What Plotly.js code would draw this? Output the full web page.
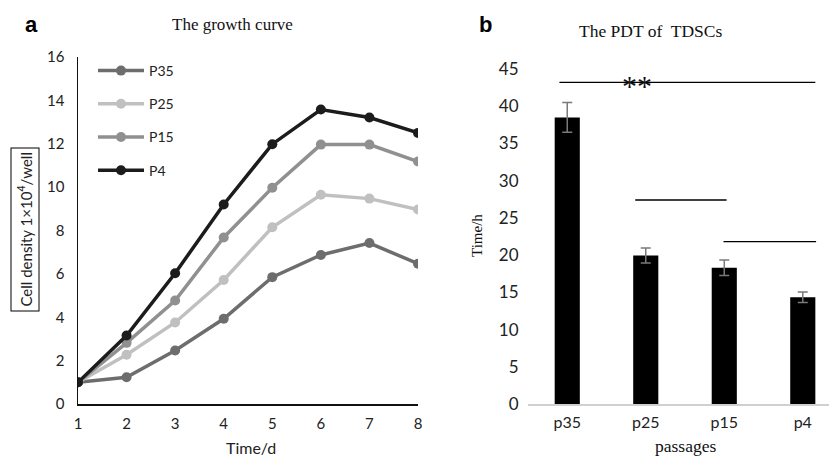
<!DOCTYPE html>
<html><head><meta charset="utf-8">
<script src="https://cdn.plot.ly/plotly-3.0.1.min.js"></script>
<style>html,body{margin:0;padding:0;background:#fff;}#chart{width:829px;height:458px;}</style>
</head><body><div id="chart"></div>
<script>
// Panel a: growth curve
const days = [1, 2, 3, 4, 5, 6, 7, 8];
const p35 = [1, 1.23, 2.47, 3.93, 5.85, 6.87, 7.42, 6.47];
const p25 = [1, 2.27, 3.76, 5.72, 8.15, 9.65, 9.47, 8.97];
const p15 = [1, 2.82, 4.77, 7.68, 9.97, 11.96, 11.96, 11.18];
const p4  = [1, 3.16, 6.03, 9.2, 11.98, 13.58, 13.21, 12.5];
const seriesNames = ['P35', 'P25', 'P15', 'P4'];
const seriesColors = ['#6d6d6d', '#c0c0c0', '#909090', '#1c1c1c'];

// Panel b: PDT
const passages = ['p35', 'p25', 'p15', 'p4'];
const pdt = [38.5, 19.95, 18.3, 14.35];
const pdtErr = [2.0, 1.0, 1.05, 0.7];
// significance brackets (category index range, level)
const sigX0 = [-0.1, 0.866, 1.99];
const sigX1 = [3.16, 2.03, 3.17];
const sigY  = [43.2, 27.4, 21.8];

const W = 829, H = 458;
const px = v => v / W, py = v => 1 - v / H;
const tickFont = {family: 'Lato, "Open Sans", sans-serif', size: 15, color: '#222'};
const serif = '"Liberation Serif", "DejaVu Serif", serif';

const lineSeries = [p35, p25, p15, p4];
const traces = lineSeries.map((ys, i) => ({
  type: 'scatter', mode: 'lines+markers', x: days, y: ys, name: seriesNames[i],
  xaxis: 'x', yaxis: 'y', legendgroup: 'g' + i,
  line: {color: seriesColors[i], width: 3.5},
  marker: {color: seriesColors[i], size: 10}
}));
traces.push({
  type: 'bar', x: passages, y: pdt, xaxis: 'x2', yaxis: 'y2', showlegend: false,
  width: 0.32, marker: {color: '#000'},
  error_y: {type: 'data', array: pdtErr, visible: true, color: '#7a7a7a', thickness: 1.5, width: 5}
});

const shapes = sigY.map((y, i) => ({
  type: 'line', xref: 'x2', yref: 'y2', x0: sigX0[i], x1: sigX1[i], y0: y, y1: y,
  line: {color: '#000', width: 1.3}
}));

function ann(text, x, y, font, extra) {
  return Object.assign({text: text, x: px(x), y: py(y), xref: 'paper', yref: 'paper',
    xanchor: 'center', yanchor: 'middle', showarrow: false, font: font}, extra || {});
}

const layout = {
  width: W, height: H, margin: {l: 0, r: 0, t: 0, b: 0},
  paper_bgcolor: '#fff', plot_bgcolor: 'rgba(0,0,0,0)',
  showlegend: true,
  legend: {x: px(93), y: py(55), xanchor: 'left', yanchor: 'top', itemwidth: 46,
           font: {family: 'Lato, sans-serif', size: 14, color: '#222'},
           tracegroupgap: 12, bgcolor: 'rgba(0,0,0,0)'},
  xaxis: {domain: [px(78), px(418)], range: [1, 8], showgrid: false, zeroline: false,
          showline: true, linecolor: '#111', linewidth: 1.5, tickvals: days,
          ticks: 'outside', ticklen: 5, tickcolor: 'rgba(0,0,0,0)', tickfont: tickFont,
          anchor: 'y'},
  yaxis: {domain: [py(404), py(57)], range: [0, 16], dtick: 2, showgrid: false, zeroline: false,
          showline: true, linecolor: '#111', linewidth: 1.5,
          ticks: 'outside', ticklen: 9, tickcolor: 'rgba(0,0,0,0)', tickfont: tickFont,
          anchor: 'x'},
  xaxis2: {domain: [px(528), 1], range: [-0.5, 3.334], showgrid: false, zeroline: false,
           showline: true, linecolor: '#d0d0d0', linewidth: 1.5,
           ticks: 'outside', ticklen: 3, tickcolor: 'rgba(0,0,0,0)',
           tickfont: {family: 'Lato, sans-serif', size: 16, color: '#222'}, anchor: 'y2'},
  yaxis2: {domain: [py(404), py(69)], range: [0, 45], dtick: 5, showgrid: false, zeroline: false,
           showline: false, ticks: 'outside', ticklen: 5, tickcolor: 'rgba(0,0,0,0)',
           tickfont: {family: 'Lato, sans-serif', size: 17, color: '#222'}, anchor: 'x2'},
  shapes: shapes,
  annotations: [
    ann('<b>a</b>', 31, 25, {family: 'Liberation Sans, Arial, sans-serif', size: 22, color: '#000'}),
    ann('<b>b</b>', 485, 25, {family: 'Liberation Sans, Arial, sans-serif', size: 22, color: '#000'}),
    ann('The growth curve', 232, 25, {family: serif, size: 17, color: '#111'}),
    ann('The PDT of  TDSCs', 650, 31, {family: serif, size: 17.5, color: '#111'}),
    ann('Cell density 1×10<sup>4</sup>/well', 25.5, 230, {family: 'Lato, sans-serif', size: 15, color: '#222'},
        {textangle: -90, bordercolor: '#000', borderwidth: 1, borderpad: 4}),
    ann('Time/d', 251, 447, {family: 'Lato, sans-serif', size: 16, color: '#222'}),
    ann('Time/h', 477, 236, {family: serif, size: 15, color: '#111'}, {textangle: -90}),
    ann('passages', 685, 446, {family: serif, size: 17.5, color: '#111'}),
    {text: '**', x: 0.89, y: sigY[0], xref: 'x2', yref: 'y2', xanchor: 'center', yanchor: 'middle', yshift: -3,
     showarrow: false, font: {family: serif, size: 30, color: '#111'}}
  ]
};
Plotly.newPlot('chart', traces, layout, {displayModeBar: false, staticPlot: true});
</script></body></html>
